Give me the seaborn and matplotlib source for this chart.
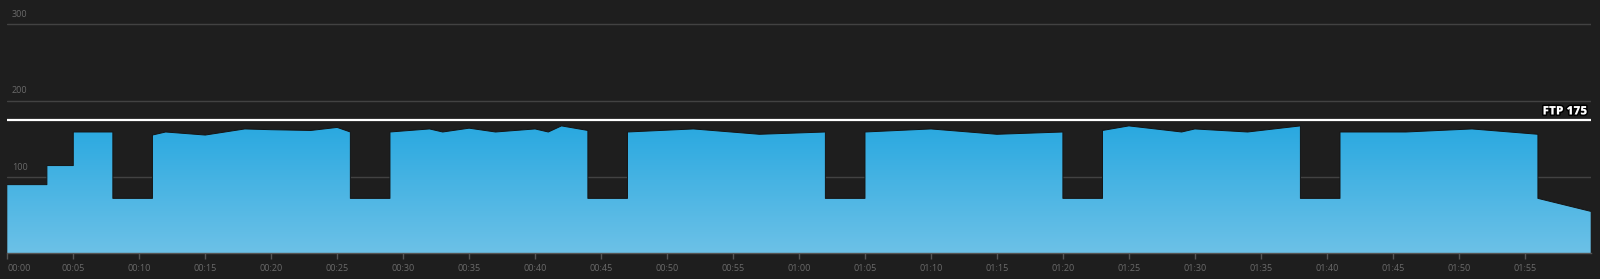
import numpy as np
import pandas as pd
import matplotlib
matplotlib.use("Agg")
import matplotlib.pyplot as plt
import matplotlib.patheffects as pe
from matplotlib.colors import LinearSegmentedColormap
import seaborn as sns

# ---- data (minutes, watts) ----
minutes = [0, 3, 3, 5, 5, 8, 8, 11, 11, 12, 15, 18, 20, 23, 25, 26, 26, 29, 29,
           32, 33, 35, 37, 40, 41, 42, 44, 44, 47, 47, 52, 57, 62, 62, 65, 65,
           70, 75, 80, 80, 83, 83, 85, 89, 90, 94, 98, 98, 101, 101, 106, 111,
           116, 116, 120]
watts = [90, 90, 115, 115, 159, 159, 72, 72, 155, 159, 155, 163, 162, 161, 165,
         159, 72, 72, 159, 163, 159, 164, 159, 163, 159, 167, 161, 72, 72, 159,
         163, 156, 159, 72, 72, 159, 163, 156, 159, 72, 72, 161, 167, 159, 163,
         159, 167, 72, 72, 159, 159, 163, 156, 72, 55]
tick_minutes = list(range(0, 120, 5))
tick_labels = [f"{m // 60:02d}:{m % 60:02d}" for m in tick_minutes]
y_grid = [100, 200, 300]
ftp = 175

df = pd.DataFrame({"minute": minutes, "watts": watts})

BG = "#1e1e1e"
sns.set_theme(style="dark")
plt.rcParams["font.family"] = ["Open Sans", "DejaVu Sans"]

fig = plt.figure(figsize=(16, 2.79), dpi=100, facecolor=BG)
ax = fig.add_axes([7.3 / 1600, 25.7 / 279, (1590.7 - 7.3) / 1600, 253.3 / 279])
ax.set_facecolor(BG)
ax.set_xlim(0, 120)
ax.set_ylim(0, 332)

# grid lines
for g in y_grid:
    ax.axhline(g, color="#424242", lw=1.0, zorder=1)
    ax.text(0.003, g + 7, str(g), transform=ax.get_yaxis_transform(),
            color="#6a6a6a", fontsize=6.5, ha="left", va="bottom", zorder=1)

# gradient area
poly = ax.fill_between(df["minute"], df["watts"], 0, color="none", lw=0, zorder=2)
cmap = LinearSegmentedColormap.from_list("g", ["#6cc1e7", "#28a8e0"])
grad = np.linspace(0, 1, 256).reshape(-1, 1)
im = ax.imshow(grad, cmap=cmap, aspect="auto", origin="lower",
               extent=[0, 120, 0, 170], zorder=2)
im.set_clip_path(poly.get_paths()[0], transform=ax.transData)

# outline
sns.lineplot(data=df, x="minute", y="watts", estimator=None, sort=False,
             color="#141414", lw=0.7, ax=ax, zorder=3)

# FTP line
ax.axhline(ftp, color="white", lw=1.6, zorder=4)
ax.text(0.9975, ftp + 3, f"FTP {ftp}", transform=ax.get_yaxis_transform(),
        color="white", fontsize=8.5, fontweight="heavy", ha="right", va="bottom",
        zorder=5, path_effects=[pe.withStroke(linewidth=2.2, foreground="black")])

# axes styling
for s in ["top", "right", "left"]:
    ax.spines[s].set_visible(False)
ax.spines["bottom"].set_color("#555555")
ax.spines["bottom"].set_linewidth(1.0)
ax.spines["bottom"].set_zorder(6)
ax.set_yticks([])
ax.set_xticks(tick_minutes)
ax.set_xticklabels(tick_labels)
ax.tick_params(axis="x", colors="#555555", length=4, width=1, direction="out",
               labelsize=6.5, labelcolor="#6a6a6a", pad=4, bottom=True)
lbls = ax.get_xticklabels()
lbls[0].set_ha("left")
ax.set_xlabel("")
ax.set_ylabel("")
ax.grid(False)

fig.savefig("out.png", dpi=100, facecolor=BG)
